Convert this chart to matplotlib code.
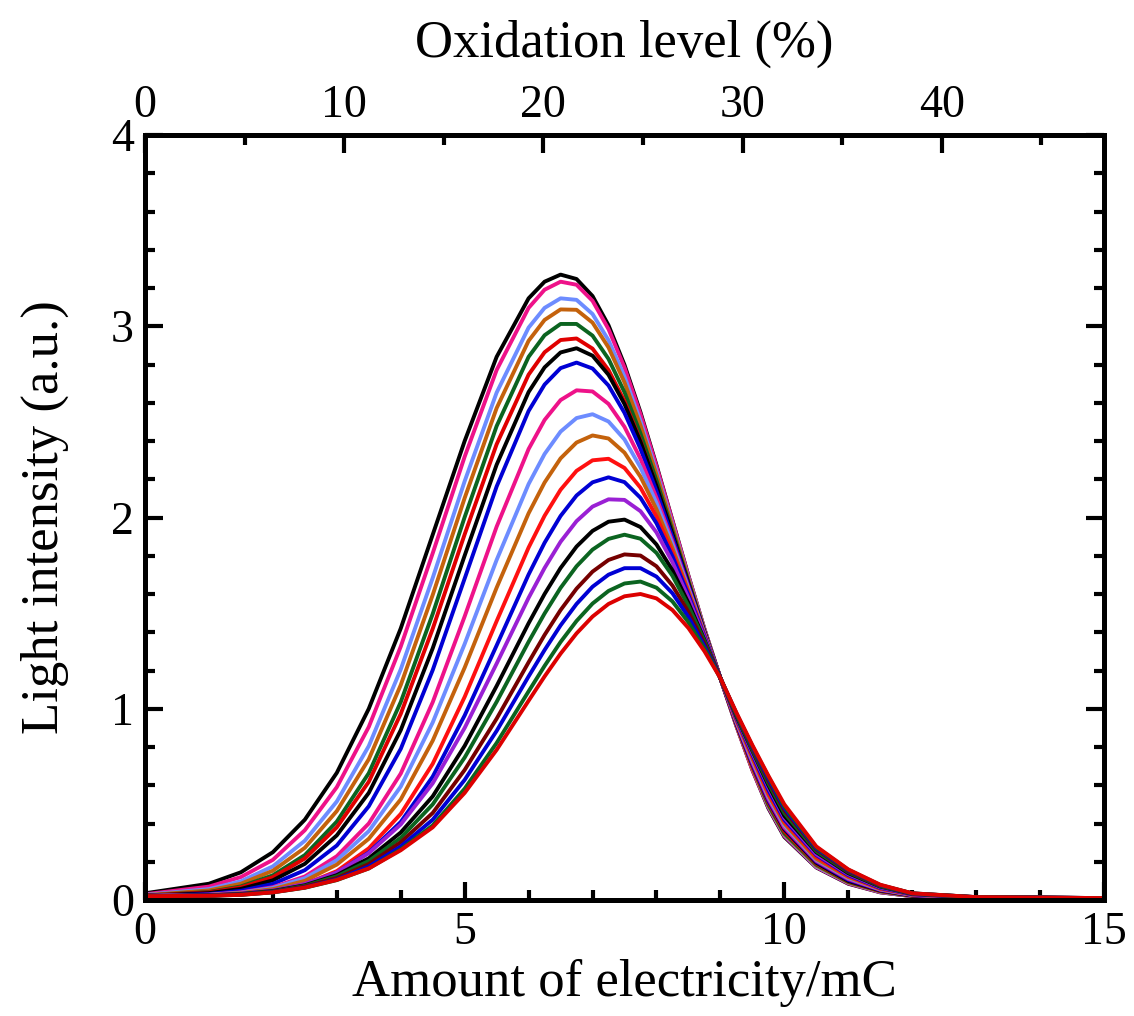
import matplotlib.pyplot as plt
import numpy as np

plt.rcParams['font.family'] = ['Liberation Serif', 'DejaVu Serif']

# amount of electricity (mC) at which the curves were read
charge = [0, 1, 1.5, 2, 2.5, 3, 3.5, 4, 4.5, 5, 5.5, 6, 6.25, 6.5, 6.75, 7, 7.25, 7.5, 7.75, 8,
          8.25, 8.5, 8.75, 9, 9.25, 9.5, 9.75, 10, 10.5, 11, 11.5, 12, 13, 15]

# light intensity (a.u.), one list per curve, top curve first
curves = [
    [0.035, 0.085, 0.145, 0.25, 0.42, 0.665, 1.00, 1.42, 1.91, 2.40, 2.84, 3.146, 3.233, 3.27, 3.247, 3.158, 3.005, 2.798, 2.55, 2.274,
     1.985, 1.696, 1.418, 1.16, 0.91, 0.68, 0.48, 0.33, 0.17, 0.085, 0.04, 0.02, 0.01, 0.01],
    [0.03, 0.07, 0.12, 0.21, 0.365, 0.59, 0.905, 1.325, 1.813, 2.318, 2.771, 3.096, 3.191, 3.233, 3.217, 3.133, 2.985, 2.784, 2.54, 2.268,
     1.982, 1.694, 1.417, 1.16, 0.91, 0.68, 0.485, 0.335, 0.172, 0.087, 0.041, 0.02, 0.01, 0.01],
    [0.027, 0.057, 0.098, 0.176, 0.31, 0.515, 0.805, 1.206, 1.684, 2.19, 2.653, 2.993, 3.096, 3.146, 3.138, 3.064, 2.927, 2.737, 2.504, 2.242,
     1.964, 1.684, 1.413, 1.16, 0.915, 0.69, 0.49, 0.34, 0.175, 0.09, 0.043, 0.021, 0.01, 0.01],
    [0.025, 0.05, 0.085, 0.153, 0.273, 0.465, 0.736, 1.124, 1.595, 2.102, 2.572, 2.924, 3.033, 3.088, 3.086, 3.019, 2.889, 2.706, 2.481, 2.225,
     1.953, 1.678, 1.41, 1.16, 0.915, 0.69, 0.495, 0.345, 0.18, 0.092, 0.045, 0.022, 0.011, 0.01],
    [0.023, 0.042, 0.071, 0.129, 0.235, 0.41, 0.663, 1.035, 1.496, 2.002, 2.478, 2.84, 2.953, 3.012, 3.012, 2.951, 2.829, 2.655, 2.439, 2.194,
     1.931, 1.665, 1.405, 1.16, 0.92, 0.70, 0.50, 0.35, 0.185, 0.095, 0.047, 0.022, 0.011, 0.01],
    [0.023, 0.04, 0.066, 0.119, 0.217, 0.38, 0.618, 0.973, 1.418, 1.912, 2.383, 2.747, 2.864, 2.928, 2.936, 2.883, 2.771, 2.608, 2.403, 2.167,
     1.914, 1.654, 1.40, 1.16, 0.92, 0.70, 0.51, 0.36, 0.19, 0.098, 0.048, 0.023, 0.011, 0.01],
    [0.022, 0.036, 0.058, 0.103, 0.189, 0.338, 0.56, 0.888, 1.316, 1.801, 2.276, 2.656, 2.785, 2.863, 2.885, 2.846, 2.746, 2.593, 2.396, 2.165,
     1.914, 1.656, 1.401, 1.16, 0.925, 0.71, 0.52, 0.37, 0.195, 0.10, 0.05, 0.024, 0.012, 0.01],
    [0.021, 0.031, 0.048, 0.084, 0.156, 0.285, 0.49, 0.79, 1.202, 1.681, 2.162, 2.557, 2.695, 2.781, 2.81, 2.779, 2.69, 2.547, 2.359, 2.138,
     1.897, 1.646, 1.397, 1.16, 0.925, 0.71, 0.52, 0.375, 0.20, 0.105, 0.052, 0.025, 0.012, 0.01],
    [0.021, 0.028, 0.04, 0.067, 0.123, 0.229, 0.40, 0.661, 1.034, 1.483, 1.952, 2.358, 2.51, 2.614, 2.665, 2.659, 2.594, 2.474, 2.307, 2.103,
     1.875, 1.634, 1.393, 1.16, 0.93, 0.72, 0.53, 0.38, 0.205, 0.11, 0.054, 0.026, 0.012, 0.01],
    [0.021, 0.027, 0.038, 0.063, 0.114, 0.208, 0.36, 0.593, 0.928, 1.339, 1.778, 2.175, 2.332, 2.449, 2.52, 2.54, 2.502, 2.408, 2.262, 2.076,
     1.86, 1.627, 1.39, 1.16, 0.935, 0.73, 0.54, 0.39, 0.21, 0.115, 0.056, 0.027, 0.012, 0.01],
    [0.021, 0.026, 0.036, 0.057, 0.10, 0.185, 0.32, 0.526, 0.833, 1.215, 1.633, 2.022, 2.183, 2.309, 2.392, 2.429, 2.413, 2.339, 2.213, 2.043,
     1.84, 1.617, 1.387, 1.16, 0.94, 0.74, 0.55, 0.40, 0.215, 0.12, 0.058, 0.028, 0.013, 0.01],
    [0.02, 0.024, 0.032, 0.048, 0.083, 0.151, 0.27, 0.45, 0.712, 1.062, 1.458, 1.843, 2.009, 2.145, 2.244, 2.299, 2.307, 2.259, 2.156, 2.005,
     1.817, 1.605, 1.383, 1.16, 0.945, 0.75, 0.56, 0.41, 0.225, 0.125, 0.06, 0.029, 0.013, 0.01],
    [0.02, 0.024, 0.032, 0.048, 0.08, 0.142, 0.248, 0.408, 0.645, 0.965, 1.331, 1.702, 1.868, 2.008, 2.115, 2.184, 2.21, 2.185, 2.103, 1.97,
     1.797, 1.595, 1.379, 1.16, 0.95, 0.76, 0.575, 0.42, 0.235, 0.13, 0.063, 0.03, 0.013, 0.01],
    [0.02, 0.025, 0.033, 0.05, 0.084, 0.144, 0.245, 0.395, 0.61, 0.90, 1.236, 1.58, 1.736, 1.873, 1.981, 2.057, 2.095, 2.092, 2.033, 1.922,
     1.766, 1.579, 1.372, 1.16, 0.955, 0.77, 0.59, 0.43, 0.24, 0.135, 0.066, 0.031, 0.014, 0.01],
    [0.02, 0.024, 0.031, 0.047, 0.077, 0.13, 0.218, 0.353, 0.542, 0.806, 1.119, 1.447, 1.60, 1.736, 1.848, 1.93, 1.978, 1.989, 1.95, 1.859,
     1.724, 1.553, 1.361, 1.16, 0.96, 0.78, 0.60, 0.44, 0.25, 0.14, 0.07, 0.032, 0.014, 0.01],
    [0.02, 0.023, 0.03, 0.045, 0.074, 0.124, 0.204, 0.325, 0.50, 0.745, 1.036, 1.35, 1.498, 1.632, 1.745, 1.832, 1.888, 1.91, 1.889, 1.815,
     1.695, 1.537, 1.355, 1.16, 0.965, 0.785, 0.61, 0.455, 0.255, 0.145, 0.072, 0.033, 0.014, 0.01],
    [0.02, 0.023, 0.029, 0.043, 0.07, 0.115, 0.188, 0.302, 0.455, 0.68, 0.948, 1.243, 1.386, 1.516, 1.628, 1.717, 1.778, 1.807, 1.801, 1.745,
     1.644, 1.506, 1.341, 1.16, 0.97, 0.795, 0.625, 0.47, 0.265, 0.15, 0.075, 0.034, 0.015, 0.01],
    [0.02, 0.023, 0.028, 0.041, 0.066, 0.108, 0.175, 0.28, 0.42, 0.628, 0.884, 1.169, 1.307, 1.436, 1.548, 1.638, 1.701, 1.735, 1.735, 1.691,
     1.604, 1.48, 1.328, 1.16, 0.975, 0.80, 0.635, 0.48, 0.27, 0.155, 0.077, 0.034, 0.015, 0.01],
    [0.02, 0.022, 0.027, 0.04, 0.064, 0.104, 0.165, 0.265, 0.39, 0.582, 0.821, 1.091, 1.224, 1.349, 1.459, 1.55, 1.616, 1.655, 1.665, 1.633,
     1.561, 1.452, 1.315, 1.16, 0.975, 0.805, 0.645, 0.49, 0.275, 0.158, 0.078, 0.035, 0.015, 0.01],
    [0.02, 0.022, 0.027, 0.04, 0.065, 0.105, 0.165, 0.26, 0.38, 0.56, 0.785, 1.042, 1.169, 1.288, 1.394, 1.482, 1.548, 1.588, 1.60, 1.577,
     1.516, 1.422, 1.301, 1.16, 0.98, 0.81, 0.65, 0.50, 0.28, 0.16, 0.08, 0.035, 0.015, 0.01],
]

colors = ['#000000', '#ee1289', '#6d8cff', '#c4620c', '#0b6420', '#e00000', '#000000', '#0000d4',
          '#ee1289', '#6d8cff', '#c4620c', '#ff1010', '#0000d4', '#9a20d4', '#000000', '#0b6420',
          '#760000', '#0000d4', '#0b6420', '#dc0000']

OXI_PER_MC = 3.21   # oxidation level (%) per mC, top axis

fig = plt.figure(figsize=(11.34, 10.16), dpi=100)
ax = fig.add_axes([145 / 1134, 1 - 900 / 1016, 959 / 1134, 765 / 1016])

for y, c in zip(curves, colors):
    ax.plot(charge, y, color=c, lw=2.8, solid_joinstyle='round')

ax.set_xlim(0, 15)
ax.set_ylim(0, 4)
ax.set_xticks([0, 5, 10, 15])
ax.set_xticks(range(16), minor=True)
ax.set_yticks([0, 1, 2, 3, 4])
ax.set_yticks(np.arange(0, 4.01, 0.2), minor=True)
ax.tick_params(which='both', direction='in', width=3, labelsize=33, right=True, top=False)
ax.tick_params(which='major', length=13, pad=8)
ax.tick_params(which='minor', length=7)
for s in ax.spines.values():
    s.set_linewidth(3.6)
ax.set_xlabel('Amount of electricity/mC', fontsize=38, labelpad=4)
ax.set_ylabel('Light intensity (a.u.)', fontsize=38, labelpad=30)

top = ax.secondary_xaxis('top', functions=(lambda x: x * OXI_PER_MC, lambda p: p / OXI_PER_MC))
top.set_xticks([0, 10, 20, 30, 40])
top.set_xticks(range(0, 50, 5), minor=True)
top.tick_params(which='both', direction='in', width=3, labelsize=33)
top.tick_params(which='major', length=13, pad=6)
top.tick_params(which='minor', length=7)
top.spines['top'].set_linewidth(3.6)
top.set_xlabel('Oxidation level (%)', fontsize=38, labelpad=20)

fig.savefig('out.png', dpi=100)
